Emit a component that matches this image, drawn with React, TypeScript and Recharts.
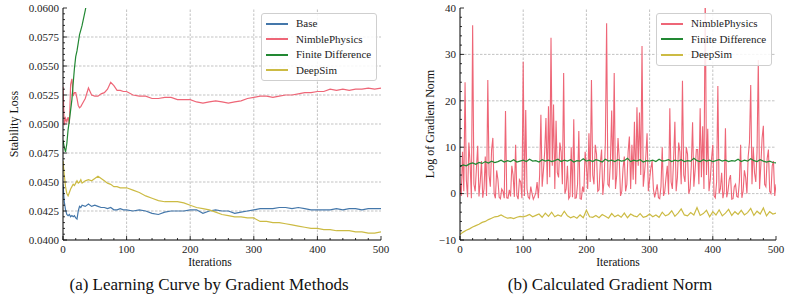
import { Line, LineChart, ReferenceLine, XAxis, YAxis } from "recharts";

const BLUE = "#4477AA";
const PINK = "#EE6677";
const GREEN = "#228833";
const YELLOW = "#CCBB44";
const GRID = "#b4b4b4";
const FONT = "Liberation Serif, DejaVu Serif, serif";

// (a) learning curve, sampled iterations
const ITER_A = [
  0, 2, 4, 6, 8, 10, 12, 14, 16, 18, 20, 22, 24, 26, 28, 30,
  35, 40, 45, 50, 55, 60, 65, 70, 75, 80, 85, 90, 95, 100,
  110, 120, 130, 140, 150, 160, 170, 180, 190, 200,
  210, 220, 230, 240, 250, 260, 270, 280, 290, 300,
  310, 320, 330, 340, 350, 360, 370, 380, 390, 400,
  410, 420, 430, 440, 450, 460, 470, 480, 490, 500,
];

const BASE_LOSS = [
  0.0448, 0.0433, 0.0426, 0.0422, 0.0421, 0.0422, 0.042, 0.0421, 0.042, 0.0421, 0.0419, 0.0418, 0.0425, 0.0429, 0.0428, 0.043,
  0.0429, 0.0431, 0.0429, 0.043, 0.0429, 0.0428, 0.0428, 0.0427, 0.0428, 0.0426, 0.0426, 0.0427, 0.0426, 0.0426,
  0.0425, 0.0426, 0.0425, 0.0423, 0.0422, 0.0424, 0.0425, 0.0425, 0.0425, 0.0426,
  0.0426, 0.0423, 0.0425, 0.0426, 0.0425, 0.0425, 0.0423, 0.0424, 0.0425, 0.0426,
  0.0427, 0.0427, 0.0427, 0.0428, 0.0428, 0.0427, 0.0428, 0.0427, 0.0426, 0.0426,
  0.0426, 0.0426, 0.0427, 0.0426, 0.0427, 0.0427, 0.0426, 0.0427, 0.0427, 0.0427,
];

const NIMBLE_LOSS = [
  0.0532, 0.0499, 0.0505, 0.0502, 0.0506, 0.05, 0.0534, 0.0539, 0.0524, 0.0527, 0.0527, 0.0522, 0.0516, 0.0514, 0.0515, 0.0517,
  0.0522, 0.0531, 0.0525, 0.0524, 0.0524, 0.0526, 0.0527, 0.053, 0.0536, 0.0533, 0.0529, 0.0529, 0.0528, 0.0528,
  0.0525, 0.0524, 0.0524, 0.0522, 0.0522, 0.0523, 0.0523, 0.0521, 0.0521, 0.0521,
  0.0519, 0.0518, 0.0519, 0.052, 0.0519, 0.0518, 0.0519, 0.052, 0.0522, 0.0523,
  0.0524, 0.0524, 0.0523, 0.0524, 0.0525, 0.0525, 0.0526, 0.0527, 0.0527, 0.0528,
  0.0528, 0.053, 0.0529, 0.053, 0.0529, 0.053, 0.053, 0.0531, 0.053, 0.0531,
];

// finite difference leaves the axis after ~40 iterations
const FD_LOSS = [
  0.0486, 0.048, 0.0476, 0.0483, 0.0495, 0.0503, 0.0512, 0.0521, 0.0535, 0.0548, 0.0558, 0.0563, 0.057, 0.0577, 0.0581, 0.0585,
  0.0598, 0.0612, 0.0625,
];

const DEEPSIM_LOSS = [
  0.0468, 0.0456, 0.0446, 0.044, 0.0438, 0.0441, 0.0444, 0.0446, 0.0448, 0.0447, 0.0449, 0.0451, 0.0449, 0.045, 0.0452, 0.0449,
  0.0451, 0.0452, 0.0451, 0.0453, 0.0455, 0.0453, 0.0451, 0.0449, 0.0448, 0.0446, 0.0446, 0.0445, 0.0445, 0.0445,
  0.0443, 0.0441, 0.0438, 0.0436, 0.0434, 0.0433, 0.0433, 0.0433, 0.0432, 0.043,
  0.0428, 0.0427, 0.0426, 0.0424, 0.0422, 0.0421, 0.042, 0.042, 0.0419, 0.0419,
  0.0416, 0.0416, 0.0415, 0.0415, 0.0414, 0.0413, 0.0412, 0.0411, 0.041, 0.041,
  0.0409, 0.0409, 0.0408, 0.0408, 0.0408, 0.0407, 0.0407, 0.0406, 0.0406, 0.0407,
];

// (b) gradient norm: nimble every 2 iterations, others every 5
const NIMBLE_NORM = [
  2.0, -0.5, 9.0, 0.5, 24.0, 3.0, -0.8, 11.0, 6.5, -1.0,
  36.3, 2.0, 0.5, 5.5, 10.3, -0.6, 2.5, 7.0, -0.9, 1.0,
  8.0, -0.5, 24.5, 4.0, 1.5, 9.5, 12.0, 0.0, -1.0, 5.0,
  3.0, -0.8, -1.1, 1.0, 0.5, -1.0, 17.8, -0.9, -1.0, 0.8,
  -0.6, 6.0, 4.0, -0.7, 10.5, -0.4, -1.2, 3.0, 2.5, -1.0,
  28.4, -0.5, 18.0, 1.0, -0.8, -1.1, 1.5, 0.0, -1.2, -0.6,
  0.2, 2.5, -1.0, 4.0, 17.0, 1.5, 5.0, 9.0, 16.3, 2.0,
  18.8, 3.5, 33.6, 6.0, 19.2, 1.0, 15.7, 4.5, 3.5, 11.0,
  9.0, 2.0, 26.0, 0.0, 1.0, 6.0, -1.1, -0.6, 10.0, -0.8,
  16.0, -1.0, -0.9, 2.0, 13.5, -1.1, -1.2, 1.5, 0.3, 9.0,
  6.0, 1.0, 13.0, 2.5, 24.5, 4.0, 2.0, 10.5, 8.5, 0.5,
  0.8, 6.5, 9.5, -0.3, 3.0, 11.0, 36.7, 2.0, 1.5, 7.0,
  17.9, 3.0, 26.0, 1.0, 4.0, 12.0, 7.5, -0.5, 0.5, 5.5,
  8.0, 0.5, 2.0, 9.0, 12.3, 1.0, 10.5, 3.0, 15.5, 2.0,
  18.6, 6.0, 17.5, 4.0, 31.8, 1.5, 4.5, 8.0, 13.0, 0.5,
  3.0, 5.5, 7.0, 1.0, -0.8, 0.5, 2.0, -0.9, -1.1, 1.5,
  10.0, -0.5, 0.5, 3.5, 6.0, -0.2, 18.4, 2.5, 1.0, 7.5,
  15.5, 0.5, 3.5, 11.0, 9.0, 2.0, 24.3, 4.0, 2.5, 10.0,
  8.5, 0.0, 1.0, 6.0, 15.4, 1.5, 5.0, 9.5, 9.5, 2.0,
  18.4, 3.5, 14.5, 1.0, 45.0, 4.0, 14.0, 0.5, 3.0, 7.5,
  10.5, -0.5, -0.9, 2.5, 23.2, 0.0, 1.0, 4.5, -1.0, 0.5,
  14.1, -0.8, 0.5, 3.0, 4.0, -1.2, -1.1, 1.5, 2.0, -0.6,
  -0.8, 2.5, 10.5, -0.9, 0.5, 5.0, 3.5, 0.0, 8.0, 11.0,
  23.4, 2.0, 10.0, 4.5, 2.5, 9.0, 28.8, 1.0, 6.0, 12.0,
  14.6, 2.0, 1.5, 7.5, 9.5, 0.5, 0.0, 6.0, 7.0, -0.5,
  2.0,
];

const FD_NORM = [
  5.8, 6.2, 6.0, 6.4, 6.6, 6.3, 6.7, 6.5, 6.9, 6.6,
  7.0, 6.7, 6.9, 7.2, 6.8, 7.1, 6.9, 7.3, 6.8, 7.0,
  7.2, 6.9, 7.4, 7.0, 7.1, 6.8, 7.3, 7.0, 7.2, 6.9,
  7.1, 7.4, 6.9, 7.2, 7.0, 7.3, 6.8, 7.1, 7.0, 7.5,
  7.0, 7.2, 6.9, 7.3, 7.1, 6.8, 7.4, 7.0, 7.2, 6.9,
  7.3, 7.0, 7.1, 7.6, 6.9, 7.2, 7.0, 7.3, 6.8, 7.1,
  7.0, 7.2, 6.9, 7.4, 7.0, 7.1, 7.3, 6.9, 7.2, 7.0,
  7.3, 6.9, 7.1, 7.0, 7.6, 7.1, 6.9, 7.3, 7.0, 7.2,
  6.9, 7.1, 7.3, 7.0, 7.2, 6.9, 7.1, 7.0, 7.4, 6.9,
  7.2, 7.0, 7.5, 7.1, 6.9, 7.3, 7.0, 6.8, 7.0, 6.7,
  6.6,
];

const DEEPSIM_NORM = [
  -8.8, -8.3, -7.9, -7.6, -7.2, -6.9, -6.6, -6.2, -6.0, -5.6,
  -5.3, -5.0, -4.9, -4.6, -5.0, -5.3, -5.2, -5.4, -5.1, -4.9,
  -5.0, -4.8, -4.5, -5.0, -4.7, -4.4, -5.1, -4.2, -4.9, -4.0,
  -5.0, -4.6, -4.9, -3.8, -4.8, -5.2, -4.9, -5.3, -4.6, -5.2,
  -3.6, -5.0, -5.1, -4.7, -5.2, -4.5, -4.9, -5.3, -4.3, -5.0,
  -4.6, -5.1, -4.2, -5.2, -4.4, -4.8, -5.0, -4.3, -5.1, -4.9,
  -4.4, -5.0, -4.6, -5.1, -4.0, -4.8, -4.5, -3.7, -4.9, -4.2,
  -3.3, -4.6, -4.8, -4.1, -4.6, -3.0, -4.7, -4.3, -3.6, -5.0,
  -3.9, -4.6, -3.5, -4.8, -4.2, -3.4, -4.7, -3.9, -4.5, -3.6,
  -4.6, -4.1, -3.2, -4.7, -3.8, -4.4, -3.1, -4.8, -3.9, -4.4,
  -4.2,
];

const X_GRID = [100, 200, 300, 400];
const LOSS_GRID = [0.0425, 0.045, 0.0475, 0.05, 0.0525, 0.055, 0.0575];
const NORM_GRID = [0, 10, 20, 30];

// every tick incl. minors; each 5th one is a labelled major
const X_TICKS = Array.from({ length: 26 }, (_, i) => i * 20);
const LOSS_TICKS = Array.from({ length: 41 }, (_, i) => 0.04 + i * 0.0005);
const NORM_TICKS = Array.from({ length: 26 }, (_, i) => -10 + i * 2);

const zipPoints = (xs: number[], ys: number[]) => ys.map((v, i) => ({ it: xs[i], v }));
const stepPoints = (ys: number[], step: number) => ys.map((v, i) => ({ it: i * step, v }));

const GAP = 4;
const textStyle = { fontFamily: FONT, fontSize: 11, fill: "#222" };
const tickLen = (index: number) => (index % 5 === 0 ? 4 : 2);

const bottomTick = (p: any) => {
  const axisY = p.y - GAP;
  return (
    <g>
      <line x1={p.x} x2={p.x} y1={axisY} y2={axisY - tickLen(p.index)} stroke="#000" strokeWidth={0.8} />
      {p.index % 5 === 0 && (
        <text x={p.x} y={axisY + 13} textAnchor="middle" style={textStyle}>
          {Math.round(p.payload.value)}
        </text>
      )}
    </g>
  );
};

const topTick = (p: any) => {
  const axisY = p.y + GAP;
  return <line x1={p.x} x2={p.x} y1={axisY} y2={axisY + tickLen(p.index)} stroke="#000" strokeWidth={0.8} />;
};

const makeLeftTick = (fmt: (v: number) => string) => (p: any) => {
  const axisX = p.x + GAP;
  return (
    <g>
      <line x1={axisX} x2={axisX + tickLen(p.index)} y1={p.y} y2={p.y} stroke="#000" strokeWidth={0.8} />
      {p.index % 5 === 0 && (
        <text x={axisX - 4} y={p.y} dy="0.35em" textAnchor="end" style={textStyle}>
          {fmt(p.payload.value)}
        </text>
      )}
    </g>
  );
};

const rightTick = (p: any) => {
  const axisX = p.x - GAP;
  return <line x1={axisX} x2={axisX - tickLen(p.index)} y1={p.y} y2={p.y} stroke="#000" strokeWidth={0.8} />;
};

const fmtLoss = (v: number) => v.toFixed(4);
const fmtNorm = (v: number) => {
  const r = Math.round(v);
  return r < 0 ? `\u2212${Math.abs(r)}` : String(r);
};

const AXIS_LINE = { stroke: "#000", strokeWidth: 1 };

function Legend({ items, left, top, width }: { items: { name: string; color: string }[]; left: number; top: number; width: number }) {
  return (
    <div
      style={{
        position: "absolute",
        left,
        top,
        width,
        padding: "2px 0 2px 0",
        border: "1px solid #cfcfcf",
        borderRadius: 3,
        background: "rgba(255,255,255,0.85)",
        boxSizing: "border-box",
        fontFamily: FONT,
      }}
    >
      {items.map((it) => (
        <div key={it.name} style={{ display: "flex", alignItems: "center", height: 15.5 }}>
          <div style={{ marginLeft: 4, width: 22, height: 1.6, background: it.color }} />
          <span style={{ marginLeft: 8, fontSize: 11, color: "#222", whiteSpace: "nowrap", lineHeight: 1 }}>{it.name}</span>
        </div>
      ))}
    </div>
  );
}

const centered = (x: number, y: number, extra: React.CSSProperties = {}): React.CSSProperties => ({
  position: "absolute",
  left: x,
  top: y,
  transform: "translate(-50%, -50%)",
  whiteSpace: "nowrap",
  lineHeight: 1,
  color: "#111",
  fontFamily: FONT,
  ...extra,
});

export default function App() {
  const iterA = ITER_A;
  return (
    <div style={{ position: "absolute", left: 0, top: 0, width: 789, height: 300, background: "#fff", fontFamily: FONT }}>
      <div style={{ position: "absolute", left: 0, top: 0 }}>
        <LineChart width={395} height={270} margin={{ top: 8, right: 14, bottom: 0, left: 0 }}>
          <XAxis dataKey="it" type="number" domain={[0, 500]} ticks={X_TICKS} interval={0} allowDataOverflow
            height={30} tickSize={0} tickMargin={GAP} tickLine={false} axisLine={AXIS_LINE} tick={bottomTick} />
          <XAxis xAxisId="top" orientation="top" dataKey="it" type="number" domain={[0, 500]} ticks={X_TICKS} interval={0}
            allowDataOverflow height={0} tickSize={0} tickMargin={GAP} tickLine={false} axisLine={AXIS_LINE} tick={topTick} />
          <YAxis type="number" domain={[0.04, 0.06]} ticks={LOSS_TICKS} interval={0} allowDataOverflow width={63}
            tickSize={0} tickMargin={GAP} tickLine={false} axisLine={AXIS_LINE} tick={makeLeftTick(fmtLoss)} />
          <YAxis yAxisId="right" orientation="right" type="number" domain={[0.04, 0.06]} ticks={LOSS_TICKS} interval={0}
            allowDataOverflow width={0} tickSize={0} tickMargin={GAP} tickLine={false} axisLine={AXIS_LINE} tick={rightTick} />
          {X_GRID.map((v) => (
            <ReferenceLine key={`gx${v}`} x={v} stroke={GRID} strokeDasharray="2.5 1.5" strokeWidth={0.8} />
          ))}
          {LOSS_GRID.map((v) => (
            <ReferenceLine key={`gy${v}`} y={v} stroke={GRID} strokeDasharray="2.5 1.5" strokeWidth={0.8} />
          ))}
          <Line data={zipPoints(iterA, BASE_LOSS)} dataKey="v" name="Base" stroke={BLUE} strokeWidth={1.2} dot={false} isAnimationActive={false} />
          <Line data={zipPoints(iterA, NIMBLE_LOSS)} dataKey="v" name="NimblePhysics" stroke={PINK} strokeWidth={1.2} dot={false} isAnimationActive={false} />
          <Line data={zipPoints(iterA, FD_LOSS)} dataKey="v" name="Finite Difference" stroke={GREEN} strokeWidth={1.2} dot={false} isAnimationActive={false} />
          <Line data={zipPoints(iterA, DEEPSIM_LOSS)} dataKey="v" name="DeepSim" stroke={YELLOW} strokeWidth={1.2} dot={false} isAnimationActive={false} />
        </LineChart>
      </div>

      <div style={{ position: "absolute", left: 395, top: 0 }}>
        <LineChart width={394} height={270} margin={{ top: 8, right: 13, bottom: 0, left: 0 }}>
          <XAxis dataKey="it" type="number" domain={[0, 500]} ticks={X_TICKS} interval={0} allowDataOverflow
            height={30} tickSize={0} tickMargin={GAP} tickLine={false} axisLine={AXIS_LINE} tick={bottomTick} />
          <XAxis xAxisId="top" orientation="top" dataKey="it" type="number" domain={[0, 500]} ticks={X_TICKS} interval={0}
            allowDataOverflow height={0} tickSize={0} tickMargin={GAP} tickLine={false} axisLine={AXIS_LINE} tick={topTick} />
          <YAxis type="number" domain={[-10, 40]} ticks={NORM_TICKS} interval={0} allowDataOverflow width={65}
            tickSize={0} tickMargin={GAP} tickLine={false} axisLine={AXIS_LINE} tick={makeLeftTick(fmtNorm)} />
          <YAxis yAxisId="right" orientation="right" type="number" domain={[-10, 40]} ticks={NORM_TICKS} interval={0}
            allowDataOverflow width={0} tickSize={0} tickMargin={GAP} tickLine={false} axisLine={AXIS_LINE} tick={rightTick} />
          {X_GRID.map((v) => (
            <ReferenceLine key={`gx${v}`} x={v} stroke={GRID} strokeDasharray="2.5 1.5" strokeWidth={0.8} />
          ))}
          {NORM_GRID.map((v) => (
            <ReferenceLine key={`gy${v}`} y={v} stroke={GRID} strokeDasharray="2.5 1.5" strokeWidth={0.8} />
          ))}
          <Line data={stepPoints(NIMBLE_NORM, 2)} dataKey="v" name="NimblePhysics" stroke={PINK} strokeWidth={1.1} dot={false} isAnimationActive={false} />
          <Line data={stepPoints(FD_NORM, 5)} dataKey="v" name="Finite Difference" stroke={GREEN} strokeWidth={1.2} dot={false} isAnimationActive={false} />
          <Line data={stepPoints(DEEPSIM_NORM, 5)} dataKey="v" name="DeepSim" stroke={YELLOW} strokeWidth={1.2} dot={false} isAnimationActive={false} />
        </LineChart>
      </div>

      <Legend
        left={261}
        top={13}
        width={116}
        items={[
          { name: "Base", color: BLUE },
          { name: "NimblePhysics", color: PINK },
          { name: "Finite Difference", color: GREEN },
          { name: "DeepSim", color: YELLOW },
        ]}
      />
      <Legend
        left={656}
        top={13}
        width={116}
        items={[
          { name: "NimblePhysics", color: PINK },
          { name: "Finite Difference", color: GREEN },
          { name: "DeepSim", color: YELLOW },
        ]}
      />

      <div style={centered(14, 124, { transform: "translate(-50%, -50%) rotate(-90deg)", fontSize: 12 })}>Stability Loss</div>
      <div style={centered(430, 124, { transform: "translate(-50%, -50%) rotate(-90deg)", fontSize: 12 })}>Log of Gradient Norm</div>
      <div style={centered(210, 263, { fontSize: 11.5 })}>Iterations</div>
      <div style={centered(618, 263, { fontSize: 11.5 })}>Iterations</div>
      <div style={centered(209, 284, { fontSize: 17 })}>(a) Learning Curve by Gradient Methods</div>
      <div style={centered(610, 284, { fontSize: 17 })}>(b) Calculated Gradient Norm</div>
    </div>
  );
}
